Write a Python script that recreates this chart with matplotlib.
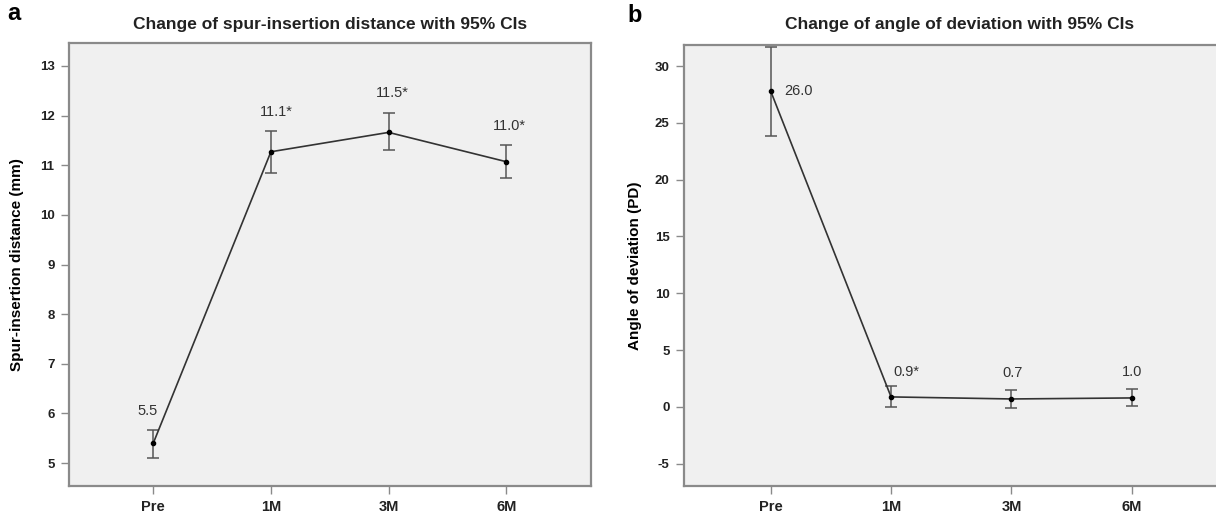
import matplotlib.pyplot as plt

# time points
categories = ['Pre', '1M', '3M', '6M']

# panel a: spur-insertion distance (mm)
spur_mean = [5.40, 11.27, 11.66, 11.07]
spur_lower = [5.11, 10.84, 11.30, 10.74]
spur_upper = [5.66, 11.68, 12.06, 11.40]
spur_labels = ['5.5', '11.1*', '11.5*', '11.0*']

# panel b: angle of deviation (PD)
angle_mean = [27.8, 0.88, 0.70, 0.79]
angle_lower = [23.84, 0.0, -0.09, 0.06]
angle_upper = [31.7, 1.82, 1.53, 1.58]
angle_labels = ['26.0', '0.9*', '0.7', '1.0']

plt.rcParams['font.family'] = ['Liberation Sans', 'DejaVu Sans']
plt.rcParams['axes.unicode_minus'] = False

W, H = 1216, 517
fig = plt.figure(figsize=(W / 100, H / 100), dpi=100)


def px_axes(left, top, right, bottom):
    return fig.add_axes([left / W, 1 - bottom / H, (right - left) / W, (bottom - top) / H])


def style(ax):
    ax.set_facecolor('#f0f0f0')
    for s in ax.spines.values():
        s.set_color('#8a8a8a')
        s.set_linewidth(1.6)
    ax.tick_params(axis='both', colors='#8a8a8a', length=6, width=1, direction='out', pad=4)
    for t in ax.get_yticklabels():
        t.set_color('#222222')
        t.set_fontweight('bold')
        t.set_fontsize(9.5)
    for t in ax.get_xticklabels():
        t.set_color('#222222')
        t.set_fontweight('bold')
        t.set_fontsize(10.5)


def draw(ax, mean, lower, upper):
    x = list(range(len(categories)))
    yerr = [[m - l for m, l in zip(mean, lower)], [u - m for m, u in zip(mean, upper)]]
    ax.errorbar(x, mean, yerr=yerr, fmt='none', ecolor='#555555', elinewidth=1.1,
                capsize=4.5, capthick=1.1, zorder=2)
    ax.plot(x, mean, color='#333333', linewidth=1.2, marker='o', markersize=3,
            markerfacecolor='black', markeredgecolor='black', zorder=3)
    ax.set_xticks(x)
    ax.set_xticklabels(categories)


def label(ax, xi, yi, text, off, ha='center', va='bottom'):
    ax.annotate(text, (xi, yi), xytext=off, textcoords='offset points',
                ha=ha, va=va, fontsize=10.5, color='#333333')


# panel a
ax1 = px_axes(68.5, 43, 591, 486)
draw(ax1, spur_mean, spur_lower, spur_upper)
spur_offsets = [(-4, 9), (4, 9), (3, 9), (2, 9)]
for i, lab in enumerate(spur_labels):
    label(ax1, i, spur_upper[i], lab, spur_offsets[i])
ax1.set_xlim(-0.72, 3.72)
ax1.set_ylim(4.54, 13.46)
ax1.set_yticks(range(5, 14))
ax1.set_ylabel('Spur-insertion distance (mm)', fontsize=11, fontweight='bold', labelpad=11)
style(ax1)
fig.text(330 / W, 1 - 25 / H, 'Change of spur-insertion distance with 95% CIs',
         ha='center', va='center', fontsize=12.5, fontweight='bold', color='#222222')
fig.text(14 / W, 1 - 14 / H, 'a', ha='center', va='center', fontsize=17, fontweight='bold')

# panel b (right side runs past the figure edge)
ax2 = px_axes(683.5, 45, 1219, 486)
draw(ax2, angle_mean, angle_lower, angle_upper)
label(ax2, 0, angle_mean[0], angle_labels[0], (10, 0), ha='left', va='center')
angle_offsets = [None, (11, 5), (1, 7), (0, 7)]
for i in range(1, 4):
    label(ax2, i, angle_upper[i], angle_labels[i], angle_offsets[i])
ax2.set_xlim(-0.724, 3.724)
ax2.set_ylim(-6.96, 31.85)
ax2.set_yticks(range(-5, 31, 5))
ax2.set_ylabel('Angle of deviation (PD)', fontsize=11, fontweight='bold', labelpad=9)
style(ax2)
fig.text(960 / W, 1 - 25 / H, 'Change of angle of deviation with 95% CIs',
         ha='center', va='center', fontsize=12.5, fontweight='bold', color='#222222')
fig.text(635 / W, 1 - 15 / H, 'b', ha='center', va='center', fontsize=17, fontweight='bold')

fig.savefig('out.png', dpi=100)
